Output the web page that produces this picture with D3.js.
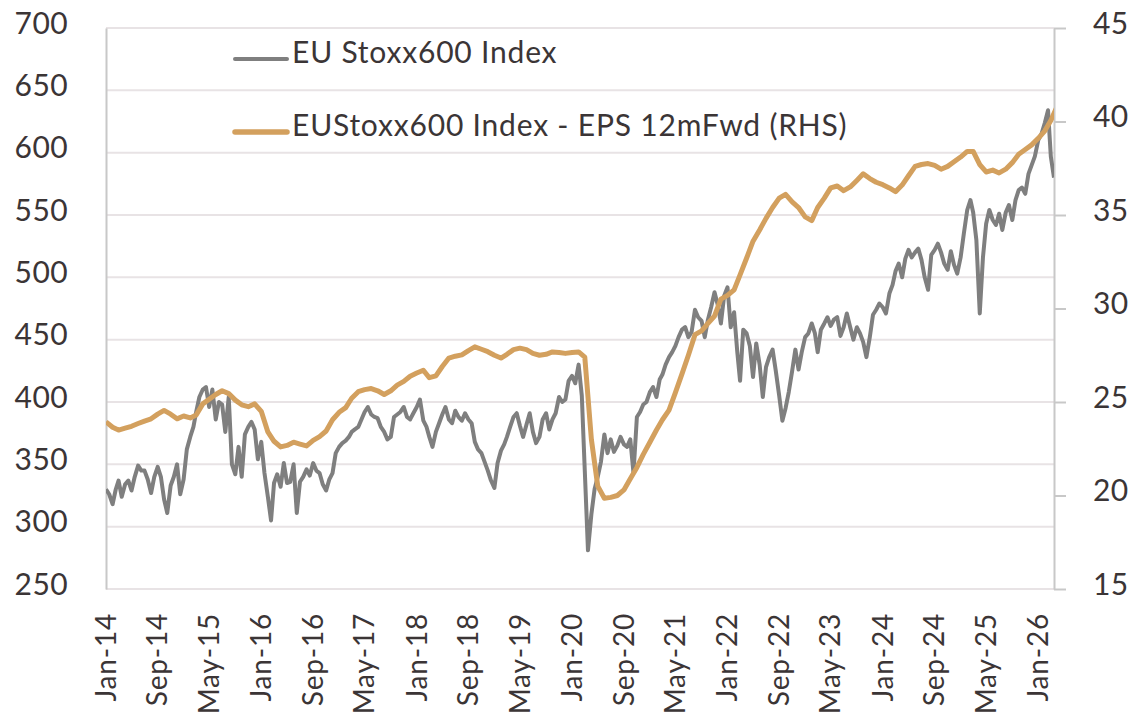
<!DOCTYPE html>
<html>
<head>
<meta charset="utf-8">
<script src="https://cdn.jsdelivr.net/npm/d3@7"></script>
<style>
  body { margin: 0; background: #fff; }
  svg text { font-family: Lato, "Open Sans", sans-serif; font-weight: 400; fill: #3b3536; }
</style>
</head>
<body>
<svg id="chart" width="1130" height="714"></svg>
<script>
// EU Stoxx600 index, two readings per month (1st and 16th), Jan-14 .. mid Mar-26
var stoxxValues = [
  330, 326, 318, 330, 337, 324, 334, 337, 329, 340, 349, 345, 345, 338, 327, 340, 348, 340, 322, 311, 333, 340, 350, 326,
  338, 362, 372, 380, 392, 404, 410, 412, 396, 410, 386, 400, 398, 376, 404, 350, 342, 364, 340, 374, 380, 384, 378, 354,
  368, 343, 324, 305, 335, 342, 332, 351, 335, 336, 350, 311, 336, 340, 346, 341, 351, 345, 343, 334, 329, 338, 343, 359,
  364, 367, 369, 372, 376, 378, 380, 386, 392, 396, 390, 388, 387, 380, 376, 370, 372, 388, 390, 392, 396, 388, 386, 391,
  396, 402, 385, 380, 372, 364, 376, 383, 390, 396, 386, 383, 393, 388, 385, 391, 386, 383, 368, 362, 359, 352, 345, 337,
  331, 351, 361, 366, 372, 380, 388, 391, 381, 372, 382, 391, 376, 367, 372, 386, 391, 378, 386, 391, 404, 400, 402, 417,
  421, 415, 430, 405, 345, 281, 310, 330, 340, 352, 374, 359, 370, 360, 365, 372, 366, 364, 370, 343, 388, 392, 398, 400,
  408, 412, 404, 418, 422, 430, 436, 440, 445, 452, 458, 460, 452, 456, 474, 468, 465, 452, 466, 476, 488, 478, 463, 485,
  492, 460, 472, 440, 417, 458, 455, 445, 420, 447, 430, 404, 428, 436, 442, 425, 405, 385, 395, 408, 425, 442, 426, 440,
  452, 455, 463, 455, 440, 458, 463, 468, 461, 466, 468, 453, 460, 471, 460, 450, 460, 455, 448, 436, 452, 470, 474, 479,
  476, 471, 487, 494, 505, 511, 500, 515, 522, 516, 520, 523, 514, 500, 490, 518, 522, 527, 520, 511, 506, 521, 510, 503,
  516, 535, 554, 562, 552, 530, 471, 516, 543, 554, 546, 542, 551, 538, 552, 558, 546, 562, 570, 572, 567, 583, 590, 597,
  610, 615, 624, 634, 597, 580
];

// EUStoxx600 EPS 12m forward (RHS), monthly on the 1st, Jan-14 .. Apr-26
var epsValues = [
  23.94, 23.65, 23.5, 23.6, 23.7, 23.85, 23.98, 24.1, 24.35, 24.55, 24.35, 24.1,
  24.25, 24.15, 24.3, 24.9, 25.15, 25.4, 25.6, 25.45, 25.1, 24.85, 24.75, 24.9,
  24.5, 23.4, 22.9, 22.6, 22.68, 22.85, 22.75, 22.65, 22.95, 23.15, 23.45, 24.05,
  24.45, 24.7, 25.2, 25.55, 25.66, 25.72, 25.6, 25.4, 25.6, 25.9, 26.1, 26.38,
  26.55, 26.7, 26.3, 26.4, 26.9, 27.35, 27.45, 27.52, 27.75, 27.95, 27.82, 27.69,
  27.5, 27.35, 27.55, 27.8, 27.88, 27.8, 27.6, 27.5, 27.55, 27.68, 27.65, 27.6,
  27.65, 27.68, 27.4, 23.0, 20.5, 19.85, 19.9, 20.0, 20.3, 20.9, 21.5, 22.2,
  22.85, 23.5, 24.05, 24.57, 25.5, 26.5, 27.5, 28.6, 28.8, 29.2, 29.6, 30.5,
  30.7, 31.0, 31.8, 32.7, 33.6, 34.2, 34.82, 35.4, 35.9, 36.1, 35.7, 35.4,
  34.9, 34.7, 35.4, 35.9, 36.45, 36.55, 36.3, 36.5, 36.85, 37.2, 36.95, 36.75,
  36.62, 36.45, 36.25, 36.6, 37.1, 37.6, 37.7, 37.75, 37.65, 37.45, 37.6, 37.85,
  38.1, 38.4, 38.4, 37.7, 37.3, 37.4, 37.25, 37.45, 37.8, 38.25, 38.5, 38.75,
  39.1, 39.5, 40.05, 40.85
];

var xTickLabels = ["Jan-14", "Sep-14", "May-15", "Jan-16", "Sep-16", "May-17", "Jan-18",
  "Sep-18", "May-19", "Jan-20", "Sep-20", "May-21", "Jan-22", "Sep-22", "May-23",
  "Jan-24", "Sep-24", "May-25", "Jan-26"];
var leftTicks = [250, 300, 350, 400, 450, 500, 550, 600, 650, 700];
var rightTicks = [15, 20, 25, 30, 35, 40, 45];
var seriesNames = ["EU Stoxx600 Index", "EUStoxx600 Index - EPS 12mFwd (RHS)"];

var grey = "#7f7f7f", gold = "#d3a05e";

var svg = d3.select("#chart");
var plot = {left: 106, right: 1054, top: 28, bottom: 589};

var stoxx = stoxxValues.map(function (v, i) {
  return {date: new Date(2014, Math.floor(i / 2), i % 2 ? 16 : 1), value: v};
});
var eps = epsValues.map(function (v, i) {
  return {date: new Date(2014, i, 1), value: v};
});

var x = d3.scaleTime()
  .domain([new Date(2014, 0, 1), new Date(2026, 2, 16)])
  .range([plot.left, plot.right]);
var yL = d3.scaleLinear().domain([250, 700]).range([plot.bottom, plot.top]);
var yR = d3.scaleLinear().domain([15, 45]).range([plot.bottom, plot.top]);

// gridlines
svg.append("g").selectAll("line")
  .data(leftTicks)
  .enter().append("line")
  .attr("x1", plot.left).attr("x2", plot.right)
  .attr("y1", function (d) { return yL(d); })
  .attr("y2", function (d) { return yL(d); })
  .attr("stroke", "#e8e3e5")
  .attr("stroke-width", 2);

// left axis
var leftAxis = svg.append("g")
  .attr("transform", "translate(" + plot.left + ",0)")
  .call(d3.axisLeft(yL).tickValues(leftTicks).tickSize(0).tickPadding(38));
leftAxis.select(".domain").attr("stroke", "#c8c8c8").attr("stroke-width", 2);
leftAxis.selectAll("text").attr("font-size", 30).attr("dy", 5)
  .attr("letter-spacing", 0.4);

// right axis
var rightAxis = svg.append("g")
  .attr("transform", "translate(" + plot.right + ",0)")
  .call(d3.axisRight(yR).tickValues(rightTicks).tickSize(12).tickSizeOuter(0).tickPadding(27));
rightAxis.select(".domain").attr("stroke", "#c8c8c8").attr("stroke-width", 2);
rightAxis.selectAll(".tick line").attr("stroke", "#c8c8c8").attr("stroke-width", 2);
rightAxis.selectAll("text").attr("font-size", 30).attr("dy", 5)
  .attr("letter-spacing", 0.4);

// x labels, rotated
var parseTick = d3.timeParse("%b-%y");
svg.append("g").selectAll("text")
  .data(xTickLabels)
  .enter().append("text")
  .attr("transform", function (d) {
    return "translate(" + x(parseTick(d)) + ",613) rotate(-90)";
  })
  .attr("text-anchor", "end")
  .attr("dy", "0.35em")
  .attr("font-size", 28)
  .attr("letter-spacing", 0.8)
  .text(function (d) { return d; });

// lines
svg.append("clipPath").attr("id", "plotClip")
  .append("rect")
  .attr("x", plot.left).attr("y", 0)
  .attr("width", plot.right - plot.left).attr("height", plot.bottom + 10);

var lineL = d3.line()
  .x(function (d) { return x(d.date); })
  .y(function (d) { return yL(d.value); });
var lineR = d3.line()
  .x(function (d) { return x(d.date); })
  .y(function (d) { return yR(d.value); });

var lines = svg.append("g").attr("clip-path", "url(#plotClip)");
lines.append("path")
  .datum(stoxx)
  .attr("d", lineL)
  .attr("fill", "none")
  .attr("stroke", grey)
  .attr("stroke-width", 4)
  .attr("stroke-linejoin", "round");
lines.append("path")
  .datum(eps)
  .attr("d", lineR)
  .attr("fill", "none")
  .attr("stroke", gold)
  .attr("stroke-width", 5)
  .attr("stroke-linejoin", "round");

// legend
var legend = svg.append("g");
var legendRows = [
  {name: seriesNames[0], color: grey, width: 4, y: 59},
  {name: seriesNames[1], color: gold, width: 5.5, y: 132}
];
legendRows.forEach(function (r) {
  legend.append("line")
    .attr("x1", 235).attr("x2", 287)
    .attr("y1", r.y).attr("y2", r.y)
    .attr("stroke", r.color)
    .attr("stroke-width", r.width)
    .attr("stroke-linecap", "round");
  legend.append("text")
    .attr("x", 292).attr("y", r.y + 4)
    .attr("font-size", 30)
    .attr("letter-spacing", 0.8)
    .text(r.name);
});
</script>
</body>
</html>
